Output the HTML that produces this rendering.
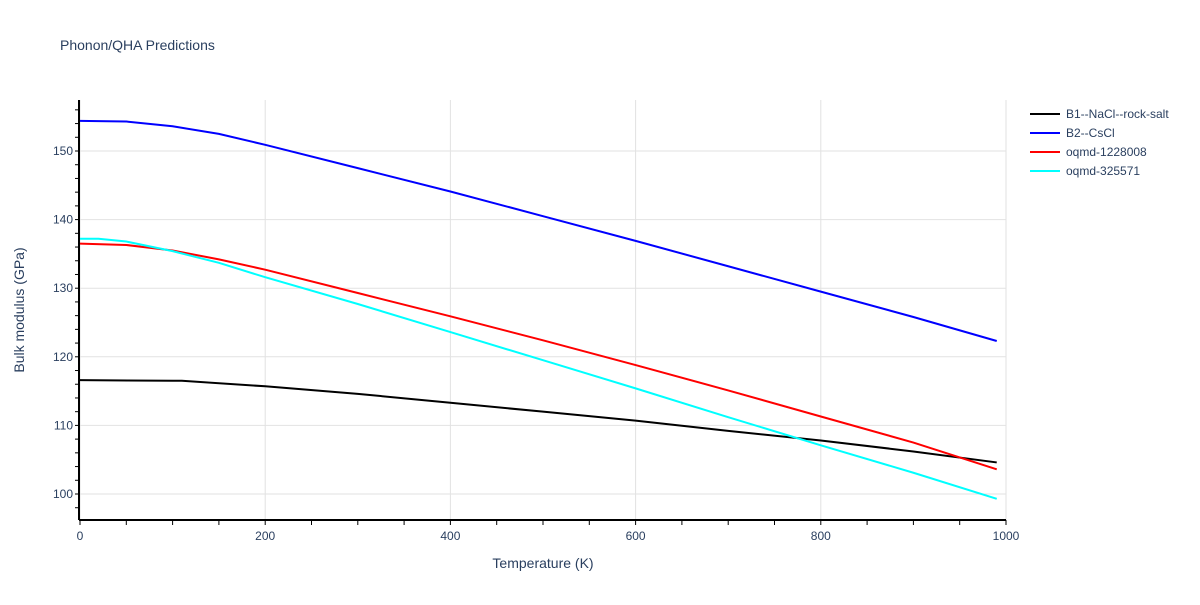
<!DOCTYPE html>
<html><head><meta charset="utf-8"><style>
body{margin:0;background:#fff;font-family:"Liberation Sans",sans-serif}
text{font-family:"Liberation Sans",sans-serif;fill:#2a3f5f}
</style></head><body>
<svg id="c" width="1200" height="600">
<text x="60" y="50" font-size="14">Phonon/QHA Predictions</text>
<g id="grid"></g><g id="axes"></g><g id="lines"></g><g id="legend"></g>
<text x="543" y="568" font-size="14" text-anchor="middle">Temperature (K)</text>
<text transform="translate(24,310) rotate(-90)" font-size="14" text-anchor="middle">Bulk modulus (GPa)</text>
</svg>
<script>
const seriesNames=["B1--NaCl--rock-salt","B2--CsCl","oqmd-1228008","oqmd-325571"];
const seriesColors=["#000000","#0000ff","#ff0000","#00ffff"];
const tB1=[0,100,110,200,300,400,500,600,700,800,900,990];
const vB1=[116.6,116.5,116.5,115.7,114.6,113.3,112.0,110.7,109.2,107.8,106.2,104.6];
const tB2=[0,50,100,150,200,300,400,500,600,700,800,900,990];
const vB2=[154.4,154.3,153.6,152.5,150.9,147.5,144.1,140.5,136.9,133.2,129.5,125.8,122.3];
const tR=[0,50,100,150,200,300,400,500,600,700,800,900,990];
const vR=[136.5,136.3,135.5,134.2,132.7,129.3,125.9,122.4,118.8,115.1,111.3,107.5,103.6];
const tC=[0,20,50,100,150,200,300,400,500,600,700,800,900,990];
const vC=[137.2,137.2,136.8,135.4,133.7,131.6,127.7,123.6,119.5,115.4,111.2,107.1,103.1,99.3];
const xTicks=[0,200,400,600,800,1000];
const yTicks=[100,110,120,130,140,150];
const NS="http://www.w3.org/2000/svg";
const X0=80,X1=1006,Y0=520,Y1=100;
const xs=t=>X0+(t/1000)*(X1-X0);
const ys=v=>494-(v-100)*6.86;
function mk(tag,attrs,parent){const e=document.createElementNS(NS,tag);for(const k in attrs)e.setAttribute(k,attrs[k]);document.getElementById(parent).appendChild(e);return e;}
xTicks.forEach(t=>{
 const g=mk('line',{x1:xs(t),x2:xs(t),y1:Y1,y2:Y0,stroke:'#e2e2e2'},'grid');
 
 
 const l=mk('text',{x:xs(t),y:Y0+20,'font-size':12,'text-anchor':'middle'},'axes');l.textContent=t;
 
 
});
yTicks.forEach(v=>{
 const g=mk('line',{x1:X0,x2:X1,y1:ys(v),y2:ys(v),stroke:'#e2e2e2'},'grid');
 
 
 const l=mk('text',{x:X0-7,y:ys(v)+4,'font-size':12,'text-anchor':'end'},'axes');l.textContent=v;
 
 
});
for(let t=0;t<=1000;t+=50){mk('line',{x1:xs(t),x2:xs(t),y1:Y0,y2:Y0+5,stroke:'#000'},'axes');}
for(let v=98;v<=156;v+=2){mk('line',{x1:X0-5,x2:X0,y1:ys(v),y2:ys(v),stroke:'#000'},'axes');}
const xa=mk('line',{x1:X0-1,x2:X1,y1:Y0,y2:Y0,stroke:'#000','stroke-width':2},'axes');


const ya=mk('line',{x1:X0-1,x2:X0-1,y1:Y1,y2:Y0,stroke:'#000','stroke-width':2},'axes');


const data=[[tB1,vB1],[tB2,vB2],[tR,vR],[tC,vC]];
data.forEach((d,i)=>{
 const p=mk('polyline',{points:d[0].map((t,j)=>xs(t)+','+ys(d[1][j])).join(' '),fill:'none',stroke:seriesColors[i],'stroke-width':2},'lines');
 
 
 const y=114+i*19;
 const ll=mk('line',{x1:1030,x2:1060,y1:y,y2:y,stroke:seriesColors[i],'stroke-width':2},'legend');
 
 
 const tx=mk('text',{x:1066,y:y+4,'font-size':12},'legend');tx.textContent=seriesNames[i];
 
 
});
</script>
</body></html>
